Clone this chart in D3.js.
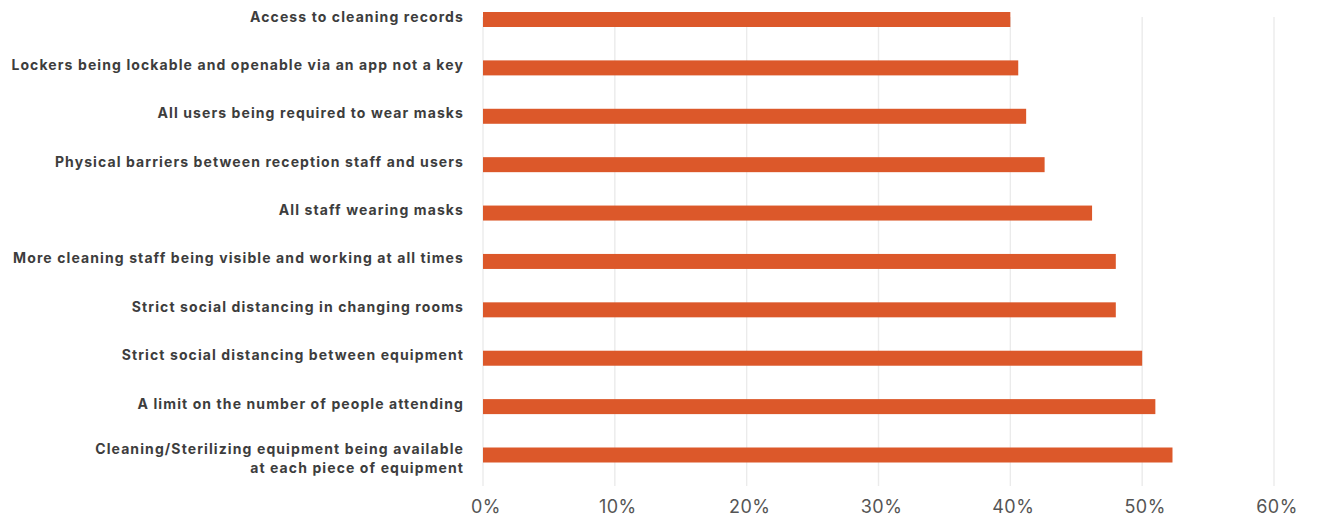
<!DOCTYPE html>
<html>
<head>
<meta charset="utf-8">
<script src="https://cdn.jsdelivr.net/npm/d3@7"></script>
<style>
  html, body { margin: 0; padding: 0; background: #ffffff; }
  svg { display: block; }
</style>
</head>
<body>
<svg id="chart" width="1318" height="517"></svg>
<script>
// Survey measures, top to bottom
const categories = [
  "Access to cleaning records",
  "Lockers being lockable and openable via an app not a key",
  "All users being required to wear masks",
  "Physical barriers between reception staff and users",
  "All staff wearing masks",
  "More cleaning staff being visible and working at all times",
  "Strict social distancing in changing rooms",
  "Strict social distancing between equipment",
  "A limit on the number of people attending",
  "Cleaning/Sterilizing equipment being available\nat each piece of equipment"
];

// Share of respondents (%)
const values = [40.0, 40.6, 41.2, 42.6, 46.2, 48.0, 48.0, 50.0, 51.0, 52.3];

// Axis ticks (%)
const tickValues = [0, 10, 20, 30, 40, 50, 60];

const data = categories.map((c, i) => ({ label: c, value: values[i] }));

const svg = d3.select("#chart");

const x = d3.scaleLinear().domain([0, 60]).range([483, 1274]);
const y = d3.scaleBand()
  .domain(categories)
  .range([12, 462.5])
  .paddingInner(0.69)
  .paddingOuter(0);

// Vertical gridlines
svg.append("g")
  .selectAll("line")
  .data(tickValues)
  .join("line")
  .attr("x1", d => x(d))
  .attr("x2", d => x(d))
  .attr("y1", 17)
  .attr("y2", 486)
  .attr("stroke", "#ebebeb")
  .attr("stroke-width", 1.4);

// Bars
svg.append("g")
  .selectAll("rect")
  .data(data)
  .join("rect")
  .attr("x", x(0))
  .attr("y", d => y(d.label))
  .attr("width", d => x(d.value) - x(0))
  .attr("height", y.bandwidth())
  .attr("fill", "#dc582a");

// Category labels, right aligned against the plot
const labelX = 464;
const labels = svg.append("g")
  .attr("font-family", "Inter, 'Noto Sans', sans-serif")
  .attr("font-weight", 700)
  .attr("font-size", 14)
  .attr("letter-spacing", 1.1)
  .attr("fill", "#3d3d3d")
  .attr("text-anchor", "end");

labels.selectAll("text")
  .data(data)
  .join("text")
  .attr("x", labelX)
  .attr("y", d => {
    const n = d.label.split("\n").length;
    return y(d.label) + y.bandwidth() / 2 + 2 - (n - 1) * 2.5;
  })
  .each(function(d) {
    const lines = d.label.split("\n");
    d3.select(this).selectAll("tspan")
      .data(lines)
      .join("tspan")
      .attr("x", labelX)
      .attr("dy", (l, i) => i === 0 ? 0 : 18.5)
      .text(l => l);
  });

// X axis tick labels
svg.append("g")
  .attr("font-family", "Inter, 'Noto Sans', sans-serif")
  .attr("font-weight", 400)
  .attr("font-size", 18)
  .attr("letter-spacing", 0.5)
  .attr("fill", "#555555")
  .attr("text-anchor", "middle")
  .selectAll("text")
  .data(tickValues)
  .join("text")
  .attr("x", d => x(d) + 3)
  .attr("y", 513)
  .text(d => d + "%");
</script>
</body>
</html>
